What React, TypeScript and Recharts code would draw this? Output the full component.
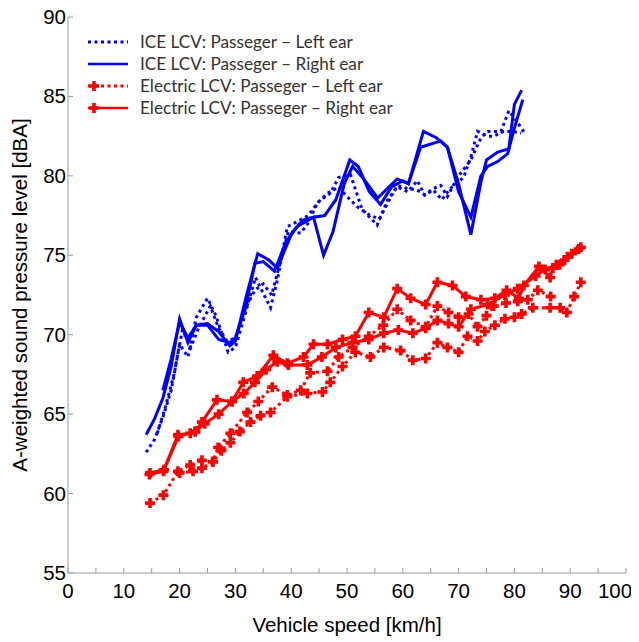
import { LineChart, Line, XAxis, YAxis, Label } from "recharts";

// speed [km/h], level [dBA]
const iceLeftRunA = [
  [14, 62.6], [15.5, 63.4], [17, 64.8], [18.5, 66.5], [20, 69.4], [21.5, 68.6], [23, 71.1],
  [25, 72.3], [26.5, 71.2], [28.7, 68.9], [30, 69.2], [31.5, 71], [33.6, 73.6], [35, 72.6],
  [36.3, 71.7], [37.5, 73.4], [39.3, 76.8], [41, 77.1], [43, 77.5], [45, 78.4], [47, 78.9],
  [48.5, 79.9], [50.6, 80.1], [52.7, 77.9], [55.4, 76.9], [57.3, 78.5], [59, 79.3], [60.9, 79],
  [62.6, 79.7], [63.9, 78.8], [65.5, 79.2], [66.8, 79.4], [68, 78.7], [69.8, 79.9], [72.2, 81],
  [74, 82.4], [75.2, 82.8], [77.6, 82.8], [79, 84.1], [80.5, 83.4], [82, 82.6],
];
const iceLeftRunB = [
  [16, 63.8], [17.5, 65.5], [19, 67.5], [20.5, 70.3], [22, 69.2], [23.5, 70.5], [25.5, 71.8],
  [27, 70.4], [28.5, 69.6], [30, 69.8], [32, 71.8], [33.5, 72.8], [35, 73.2], [36.5, 72.5],
  [38, 74.5], [39.5, 76.5], [41.7, 76.4], [43, 77], [44.7, 78.3], [46.5, 78.9], [48.5, 79.3],
  [50, 78.7], [52, 78], [54.2, 77.5], [55.8, 77.3], [57.3, 78.3], [59, 79.4], [60.9, 79.2],
  [62.6, 79.1], [64, 78.8], [65.5, 79.1], [67, 78.5], [68.5, 79.2], [70.9, 79.9], [72.2, 81.2],
  [73.4, 82.8], [75.2, 82.5], [76.3, 82.5], [78.1, 82.8], [79.5, 82.8], [81.2, 82.7],
];
const iceRightRunA = [
  [14, 63.7], [15.5, 64.7], [17, 66], [18.5, 68], [20, 71], [21.5, 69.5], [23, 70.6], [25, 70.7],
  [27, 70.2], [29, 69.3], [30, 69.6], [32, 72.5], [34, 75.1], [36, 74.7], [37.5, 74.2],
  [40, 76.3], [42, 77.2], [44, 77.4], [46, 77.5], [48, 78.5], [50.5, 81], [52, 80.6], [54, 79],
  [56, 78.2], [58, 79.3], [60, 79.7], [61, 79.5], [63.7, 82.8], [66, 82.4], [68, 81.8],
  [70, 79.5], [72.2, 76.3], [74, 79.6], [75, 81], [77, 81.5], [79, 81.7], [80, 84.5], [81.3, 85.4],
];
const iceRightRunB = [
  [17, 66.5], [18.5, 68.5], [20, 70.8], [21.5, 69.8], [23, 70.6], [25, 70.6], [27, 69.7],
  [29, 69.5], [30, 69.8], [32, 72], [33.5, 74.5], [35, 74.6], [37, 74], [39, 75.8], [41, 76.8],
  [43, 77.2], [44, 77.4], [45.8, 75], [47.5, 76.5], [49.5, 79.5], [51, 80.6], [53, 79.8],
  [55.5, 78.6], [57.5, 79.3], [59, 79.8], [61, 79.5], [63.2, 81.8], [66.8, 82.2], [68, 81.8],
  [70, 79], [72.2, 77.4], [74, 80], [75.2, 80.6], [77, 80.9], [78.8, 81.4], [80, 83], [81.5, 84.8],
];
const evLeftRunA = [
  [14.7, 59.4], [17.1, 59.9], [19.7, 61.4], [21.9, 61.8], [24, 62.1], [25.9, 62], [26.9, 62.9],
  [29.1, 63.8], [32.1, 65.1], [34.1, 65.8], [36.6, 66.7], [39.3, 66.2], [41.7, 66.5],
  [43.4, 67.6], [46.5, 67.7], [48.5, 68.6], [51, 69.2], [53.9, 69.9], [56.5, 70.6], [59, 71.6],
  [61.4, 70.9], [64.1, 70.5], [66.2, 71.8], [68.2, 71.4], [70, 71.1], [71.8, 71.3], [73.4, 70.5],
  [75, 71.2], [76.3, 71.8], [78.5, 72], [80.6, 72.1], [82.4, 72.2], [84.2, 72.8], [86.5, 72.4],
];
const evLeftRunB = [
  [20, 61.3], [22.4, 61.4], [24, 61.6], [26, 62], [27.5, 62.7], [29.1, 63.2], [30.8, 63.9],
  [32.7, 64.5], [34.5, 64.9], [36.3, 65.1], [39.3, 66.1], [42.9, 66.3], [45.6, 66.4],
  [47, 67], [49.2, 68], [51.5, 68.9], [54.2, 68.6], [56.6, 69.2], [59.6, 69], [61.8, 68.4],
  [64.1, 68.5], [66.2, 69.5], [68, 69.2], [70, 68.9], [71.6, 69.9], [73.4, 69.6], [74.7, 70.2],
  [76.5, 70.6], [78.3, 71], [80, 71.1], [81.3, 71.3], [83.3, 71.7], [86.4, 71.7], [88.2, 71.7],
  [89.4, 71.4], [90.7, 72.4], [91.9, 73.3],
];
const evRightRunA = [
  [14.7, 61.3], [17.2, 61.5], [19.7, 63.7], [21.9, 63.8], [22.8, 63.9], [24, 64.5], [26.7, 65.9],
  [29.4, 65.8], [31.4, 67], [33.9, 67.4], [36.8, 68.7], [39.3, 68.2], [42.2, 68.6], [44, 69.4],
  [46.5, 69.4], [49.2, 69.7], [51.5, 69.9], [53.9, 71.4], [56.6, 71.1], [59, 72.9], [61.4, 72.3],
  [64.1, 71.9], [66.2, 73.3], [68.9, 73.1], [71.3, 72.4], [74, 72.2], [76.5, 72.3], [78.6, 72.8],
  [80.8, 72.3], [81.7, 73.1], [84.4, 74.3], [86.4, 73.6], [86.9, 74.2], [88.1, 74.4],
  [89, 74.7], [90.3, 75.1], [91.9, 75.5],
];
const evRightRunB = [
  [14.6, 61.2], [17.1, 61.4], [19.8, 63.6], [22.8, 63.9], [24.5, 64.4], [27, 65], [29.4, 65.8],
  [31.5, 66.3], [33.5, 67], [35.5, 67.8], [37.5, 68.3], [39.5, 68.1], [42.9, 68.1], [45.5, 68.6],
  [48, 69.2], [51, 69.5], [53.9, 69.7], [56.6, 70.1], [59.2, 70.3], [61.8, 70.1], [64.1, 70.4],
  [66.2, 70.9], [68.2, 70.7], [70, 70.5], [72.2, 71.6], [75.2, 71.9], [78.3, 72.5], [80.6, 72.9],
  [83.8, 73.7], [85.5, 74.1], [87.5, 74.4], [89.5, 74.9], [91.5, 75.4],
];

const xTicks = [0, 5, 10, 15, 20, 25, 30, 35, 40, 45, 50, 55, 60, 65, 70, 75, 80, 85, 90, 95, 100];
const yTicks = [55, 60, 65, 70, 75, 80, 85, 90];

const legendItems = [
  { label: "ICE LCV: Passeger \u2013 Left ear", color: "#0000ff", dotted: true, marker: false },
  { label: "ICE LCV: Passeger \u2013 Right ear", color: "#0000ff", dotted: false, marker: false },
  { label: "Electric LCV: Passeger \u2013 Left ear", color: "#ff0000", dotted: true, marker: true },
  { label: "Electric LCV: Passeger \u2013 Right ear", color: "#ff0000", dotted: false, marker: true },
];

const toPoints = (rows: number[][]) => rows.map(([x, y]) => ({ x, y }));

const BLUE = "#0000ff";
const RED = "#ff0000";
const FRAME = "#9a9a9a";
const AXIS_FONT = "'Liberation Sans', Arial, sans-serif";
const AXIS_SIZE = 20.5;

const plusPath = (cx: number, cy: number, r = 5) =>
  `M${cx - r},${cy}H${cx + r}M${cx},${cy - r}V${cy + r}`;

const renderPlus = (props: any) => {
  const { cx, cy, index } = props;
  if (cx == null || cy == null) return <g key={`p-${index}`} />;
  return (
    <path
      key={`p-${index}-${cx}-${cy}`}
      d={plusPath(cx, cy)}
      stroke={RED}
      strokeWidth={3.6}
      fill="none"
    />
  );
};

const BottomTick = ({ x, y, payload }: any) => (
  <g>
    <line x1={x} x2={x} y1={y} y2={y - 5} stroke={FRAME} />
    {payload.value % 10 === 0 && (
      <text
        x={payload.value === 100 ? x - 11 : x}
        y={y + 25}
        textAnchor="middle"
        fontSize={AXIS_SIZE}
        fontFamily={AXIS_FONT}
        fill="#000"
      >
        {payload.value}
      </text>
    )}
  </g>
);

const TopTick = ({ x, y }: any) => (
  <line x1={x} x2={x} y1={y} y2={y + 5} stroke={FRAME} />
);

const LeftTick = ({ x, y, payload }: any) => (
  <g>
    <line x1={x} x2={x + 5} y1={y} y2={y} stroke={FRAME} />
    <text x={x - 2} y={y + 7} textAnchor="end" fontSize={AXIS_SIZE} fontFamily={AXIS_FONT} fill="#000">
      {payload.value}
    </text>
  </g>
);

const RightTick = ({ x, y }: any) => (
  <line x1={x} x2={x - 5} y1={y} y2={y} stroke={FRAME} />
);

const LegendBox = () => (
  <svg width={320} height={92} style={{ position: "absolute", left: 78, top: 23 }}>
    {legendItems.map((item, i) => {
      const cy = 11 + i * 22;
      return (
        <g key={item.label}>
          <line
            x1={2}
            x2={42}
            y1={cy}
            y2={cy}
            stroke={item.color}
            strokeWidth={item.dotted ? 3 : 2.5}
            strokeDasharray={item.dotted ? "3 3.5" : undefined}
          />
          {item.marker && (
            <path d={plusPath(8, cy)} stroke={item.color} strokeWidth={3.6} fill="none" />
          )}
          <text
            x={54}
            y={cy + 6}
            fontSize={17.2}
            fontFamily="Lato, 'Open Sans', sans-serif"
            fill="#333"
          >
            {item.label}
          </text>
        </g>
      );
    })}
  </svg>
);

export default function App() {
  return (
    <div style={{ position: "relative", width: 631, height: 634 }}>
      <LineChart
        width={631}
        height={634}
        margin={{ top: 9, right: 13, bottom: 0, left: 0 }}
        style={{ overflow: "visible" }}
      >
        <XAxis
          dataKey="x"
          type="number"
          domain={[0, 100]}
          ticks={xTicks}
          interval={0}
          tick={<BottomTick />}
          tickLine={false}
          tickSize={0}
          tickMargin={0}
          height={69}
          axisLine={{ stroke: FRAME }}
          allowDataOverflow
        >
          <Label
            content={({ viewBox }: any) => (
              <text
                x={viewBox.x + viewBox.width / 2}
                y={viewBox.y + 59}
                textAnchor="middle"
                fontSize={AXIS_SIZE}
                fontFamily={AXIS_FONT}
                fill="#000"
              >
                Vehicle speed [km/h]
              </text>
            )}
          />
        </XAxis>
        <XAxis
          xAxisId="top"
          orientation="top"
          dataKey="x"
          type="number"
          domain={[0, 100]}
          ticks={xTicks}
          interval={0}
          tick={<TopTick />}
          tickLine={false}
          tickSize={0}
          tickMargin={0}
          height={0}
          axisLine={{ stroke: FRAME }}
        />
        <YAxis
          type="number"
          domain={[55, 90]}
          ticks={yTicks}
          interval={0}
          tick={<LeftTick />}
          tickLine={false}
          tickSize={0}
          tickMargin={0}
          width={60}
          axisLine={{ stroke: FRAME }}
          allowDataOverflow
        >
          <Label
            content={({ viewBox }: any) => {
              const cx = viewBox.x + 11;
              const cy = viewBox.y + viewBox.height / 2;
              return (
                <text
                  x={cx}
                  y={cy}
                  transform={`rotate(-90 ${cx} ${cy})`}
                  textAnchor="middle"
                  dominantBaseline="central"
                  fontSize={AXIS_SIZE}
                  fontFamily={AXIS_FONT}
                  fill="#000"
                >
                  A-weighted sound pressure level [dBA]
                </text>
              );
            }}
          />
        </YAxis>
        <YAxis
          yAxisId="right"
          orientation="right"
          type="number"
          domain={[55, 90]}
          ticks={yTicks}
          interval={0}
          tick={<RightTick />}
          tickLine={false}
          tickSize={0}
          tickMargin={0}
          width={0}
          axisLine={{ stroke: FRAME }}
        />
        <Line data={toPoints(iceLeftRunA)} dataKey="y" stroke={BLUE} strokeWidth={3} strokeDasharray="3 3.5" dot={false} isAnimationActive={false} />
        <Line data={toPoints(iceLeftRunB)} dataKey="y" stroke={BLUE} strokeWidth={3} strokeDasharray="3 3.5" dot={false} isAnimationActive={false} />
        <Line data={toPoints(iceRightRunA)} dataKey="y" stroke={BLUE} strokeWidth={3} dot={false} isAnimationActive={false} />
        <Line data={toPoints(iceRightRunB)} dataKey="y" stroke={BLUE} strokeWidth={3} dot={false} isAnimationActive={false} />
        <Line data={toPoints(evLeftRunA)} dataKey="y" stroke={RED} strokeWidth={3} strokeDasharray="3 3.5" dot={renderPlus} isAnimationActive={false} />
        <Line data={toPoints(evLeftRunB)} dataKey="y" stroke={RED} strokeWidth={3} strokeDasharray="3 3.5" dot={renderPlus} isAnimationActive={false} />
        <Line data={toPoints(evRightRunA)} dataKey="y" stroke={RED} strokeWidth={3} dot={renderPlus} isAnimationActive={false} />
        <Line data={toPoints(evRightRunB)} dataKey="y" stroke={RED} strokeWidth={3} dot={renderPlus} isAnimationActive={false} />
      </LineChart>
      <LegendBox />
    </div>
  );
}
